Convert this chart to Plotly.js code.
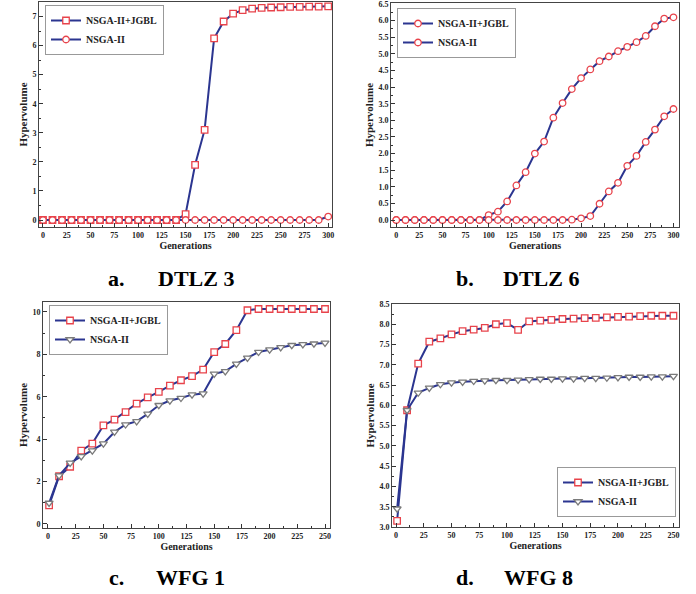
<!DOCTYPE html>
<html>
<head>
<meta charset="utf-8">
<script src="https://cdn.plot.ly/plotly-3.0.1.min.js"></script>
<style>html,body{margin:0;padding:0;background:#fff;}#chart{width:696px;height:594px;}</style>
</head>
<body>
<div id="chart"></div>
<script>
// ---------- data ----------
const gens300 = [0,10,20,30,40,50,60,70,80,90,100,110,120,130,140,150,160,170,180,190,200,210,220,230,240,250,260,270,280,290,300];
const gens250 = [1,10,20,30,40,50,60,70,80,90,100,110,120,130,140,150,160,170,180,190,200,210,220,230,240,250];

const seriesNames = ["NSGA-II+JGBL", "NSGA-II"];
const captions = [["a.", "DTLZ 3"], ["b.", "DTLZ 6"], ["c.", "WFG 1"], ["d.", "WFG 8"]];

const dtlz3_jgbl = [0,0,0,0,0,0,0,0,0,0,0,0,0,0,0,0.2,1.9,3.1,6.25,6.83,7.1,7.22,7.27,7.3,7.31,7.32,7.33,7.33,7.34,7.34,7.35];
const dtlz3_nsga = [0,0,0,0,0,0,0,0,0,0,0,0,0,0,0,0,0,0,0,0,0,0,0,0,0,0,0,0,0,0,0.12];

const dtlz6_jgbl = [0,0,0,0,0,0,0,0,0,0,0.15,0.25,0.56,1.04,1.44,2.0,2.36,3.08,3.52,3.94,4.27,4.53,4.78,4.92,5.08,5.21,5.35,5.54,5.83,6.06,6.1];
const dtlz6_nsga = [0,0,0,0,0,0,0,0,0,0,0,0,0,0,0,0,0,0,0,0.01,0.05,0.12,0.49,0.86,1.12,1.63,1.93,2.35,2.72,3.12,3.34];

const wfg1_jgbl = [0.88,2.25,2.7,3.46,3.79,4.65,4.92,5.28,5.68,5.97,6.23,6.53,6.78,6.97,7.28,8.11,8.49,9.14,10.08,10.14,10.14,10.14,10.14,10.14,10.14,10.14];
const wfg1_nsga = [0.99,2.28,2.88,3.19,3.46,3.79,4.34,4.69,4.84,5.19,5.6,5.82,5.94,6.1,6.15,7.08,7.2,7.55,7.83,8.11,8.22,8.33,8.43,8.47,8.5,8.54];

const wfg8_jgbl = [3.15,5.88,7.03,7.57,7.65,7.75,7.83,7.87,7.91,8.0,8.03,7.86,8.07,8.09,8.11,8.13,8.14,8.15,8.16,8.17,8.18,8.19,8.2,8.21,8.21,8.21];
const wfg8_nsga = [3.45,5.88,6.31,6.43,6.52,6.56,6.58,6.6,6.61,6.62,6.62,6.63,6.64,6.65,6.65,6.66,6.66,6.67,6.67,6.68,6.69,6.7,6.7,6.71,6.71,6.72];

// ---------- styles ----------
const FONT = "Liberation Serif, Times New Roman, serif";
const LINE = "#2b3590";
const RED = "#e8434b";
const GRAY = "#7a7a7a";

function tr(x, y, name, sym, mcol, xa, ya, leg) {
  return {
    type: "scatter", mode: "lines+markers", x: x, y: y, name: name,
    xaxis: xa, yaxis: ya, legend: leg,
    line: {color: LINE, width: 2},
    marker: {symbol: sym, size: sym === "triangle-down" ? 7 : 6.5, color: "white", line: {color: mcol, width: 1.3}}
  };
}

const data = [
  tr(gens300, dtlz3_jgbl, seriesNames[0], "square", RED, "x", "y", "legend"),
  tr(gens300, dtlz3_nsga, seriesNames[1], "circle", RED, "x", "y", "legend"),
  tr(gens300, dtlz6_jgbl, seriesNames[0], "circle", RED, "x2", "y2", "legend2"),
  tr(gens300, dtlz6_nsga, seriesNames[1], "circle", RED, "x2", "y2", "legend2"),
  tr(gens250, wfg1_jgbl, seriesNames[0], "square", RED, "x3", "y3", "legend3"),
  tr(gens250, wfg1_nsga, seriesNames[1], "triangle-down", GRAY, "x3", "y3", "legend3"),
  tr(gens250, wfg8_jgbl, seriesNames[0], "square", RED, "x4", "y4", "legend4"),
  tr(gens250, wfg8_nsga, seriesNames[1], "triangle-down", GRAY, "x4", "y4", "legend4")
];

function xax(domain, range, anchor, minorD) {
  return {
    domain: domain, range: range, anchor: anchor,
    dtick: 25, tick0: 0, ticks: "inside", ticklen: 4, tickwidth: 1, tickcolor: "#333",
    minor: {ticks: "inside", ticklen: 2, dtick: minorD, tick0: 0, tickcolor: "#333"},
    showline: true, linecolor: "#444", linewidth: 1, mirror: true,
    showgrid: false, zeroline: false, ticklabeloverflow: "allow",
    tickfont: {family: FONT, size: 8, color: "#222", weight: "bold"},
    title: {text: "Generations", font: {family: FONT, size: 10, color: "#222", weight: "bold"}, standoff: 1},
    automargin: false
  };
}
function yax(domain, range, anchor, dtick, minorD, fmt) {
  return {
    domain: domain, range: range, anchor: anchor,
    dtick: dtick, tick0: 0, ticks: "inside", ticklen: 4, tickwidth: 1, tickcolor: "#333",
    minor: {ticks: "inside", ticklen: 2, dtick: minorD, tick0: 0, tickcolor: "#333"},
    showline: true, linecolor: "#444", linewidth: 1, mirror: true,
    showgrid: false, zeroline: false, tickformat: fmt, ticklabeloverflow: "allow",
    tickfont: {family: FONT, size: 8, color: "#222", weight: "bold"},
    title: {text: "Hypervolume", font: {family: FONT, size: 11, color: "#222", weight: "bold"}, standoff: 2},
    automargin: false
  };
}
function leg(x, y, xanchor, yanchor) {
  return {
    x: x, y: y, xanchor: xanchor, yanchor: yanchor,
    bgcolor: "white", bordercolor: "#999", borderwidth: 1,
    font: {family: FONT, size: 10, color: "#222", weight: "bold"},
    tracegroupgap: 0, itemwidth: 30
  };
}

const W = 696, H = 594;
const px = v => v / W, py = v => 1 - v / H;

const annotations = [];
const capPos = [[116, 196, 278], [465, 541, 278], [116, 190, 577], [465, 538, 577]];
captions.forEach((c, i) => {
  const p = capPos[i];
  annotations.push({xref: "paper", yref: "paper", x: px(p[0]), y: py(p[2]), text: c[0], showarrow: false,
    xanchor: "center", yanchor: "middle", font: {family: FONT, size: 22, color: "#000", weight: "bold"}});
  annotations.push({xref: "paper", yref: "paper", x: px(p[1]), y: py(p[2]), text: c[1], showarrow: false,
    xanchor: "center", yanchor: "middle", font: {family: FONT, size: 22, color: "#000", weight: "bold"}});
});

const layout = {
  width: W, height: H, margin: {l: 0, r: 0, t: 0, b: 0},
  paper_bgcolor: "white", plot_bgcolor: "white",
  showlegend: true,
  xaxis: xax([px(39), px(332)], [-4.2, 304], "y", 12.5),
  yaxis: yax([py(227), py(2)], [-0.24, 7.5], "x", 1, 0.5, "d"),
  xaxis2: xax([px(391), px(679)], [-5.7, 306], "y2", 12.5),
  yaxis2: yax([py(227), py(3)], [-0.21, 6.53], "x2", 0.5, 0.25, ".1f"),
  xaxis3: xax([px(43), px(330)], [-4.5, 254.5], "y3", 12.5),
  yaxis3: yax([py(528), py(302)], [-0.19, 10.47], "x3", 2, 1, "d"),
  xaxis4: xax([px(392), px(679)], [-3.6, 255], "y4", 12.5),
  yaxis4: yax([py(527), py(304)], [3.0, 8.5], "x4", 0.5, 0.25, ".1f"),
  legend: leg(px(45), py(5), "left", "top"),
  legend2: leg(px(397), py(8), "left", "top"),
  legend3: leg(px(49), py(305), "left", "top"),
  legend4: leg(px(676), py(517), "right", "bottom"),
  annotations: annotations
};

Plotly.newPlot("chart", data, layout, {displayModeBar: false, staticPlot: true});
</script>
</body>
</html>
